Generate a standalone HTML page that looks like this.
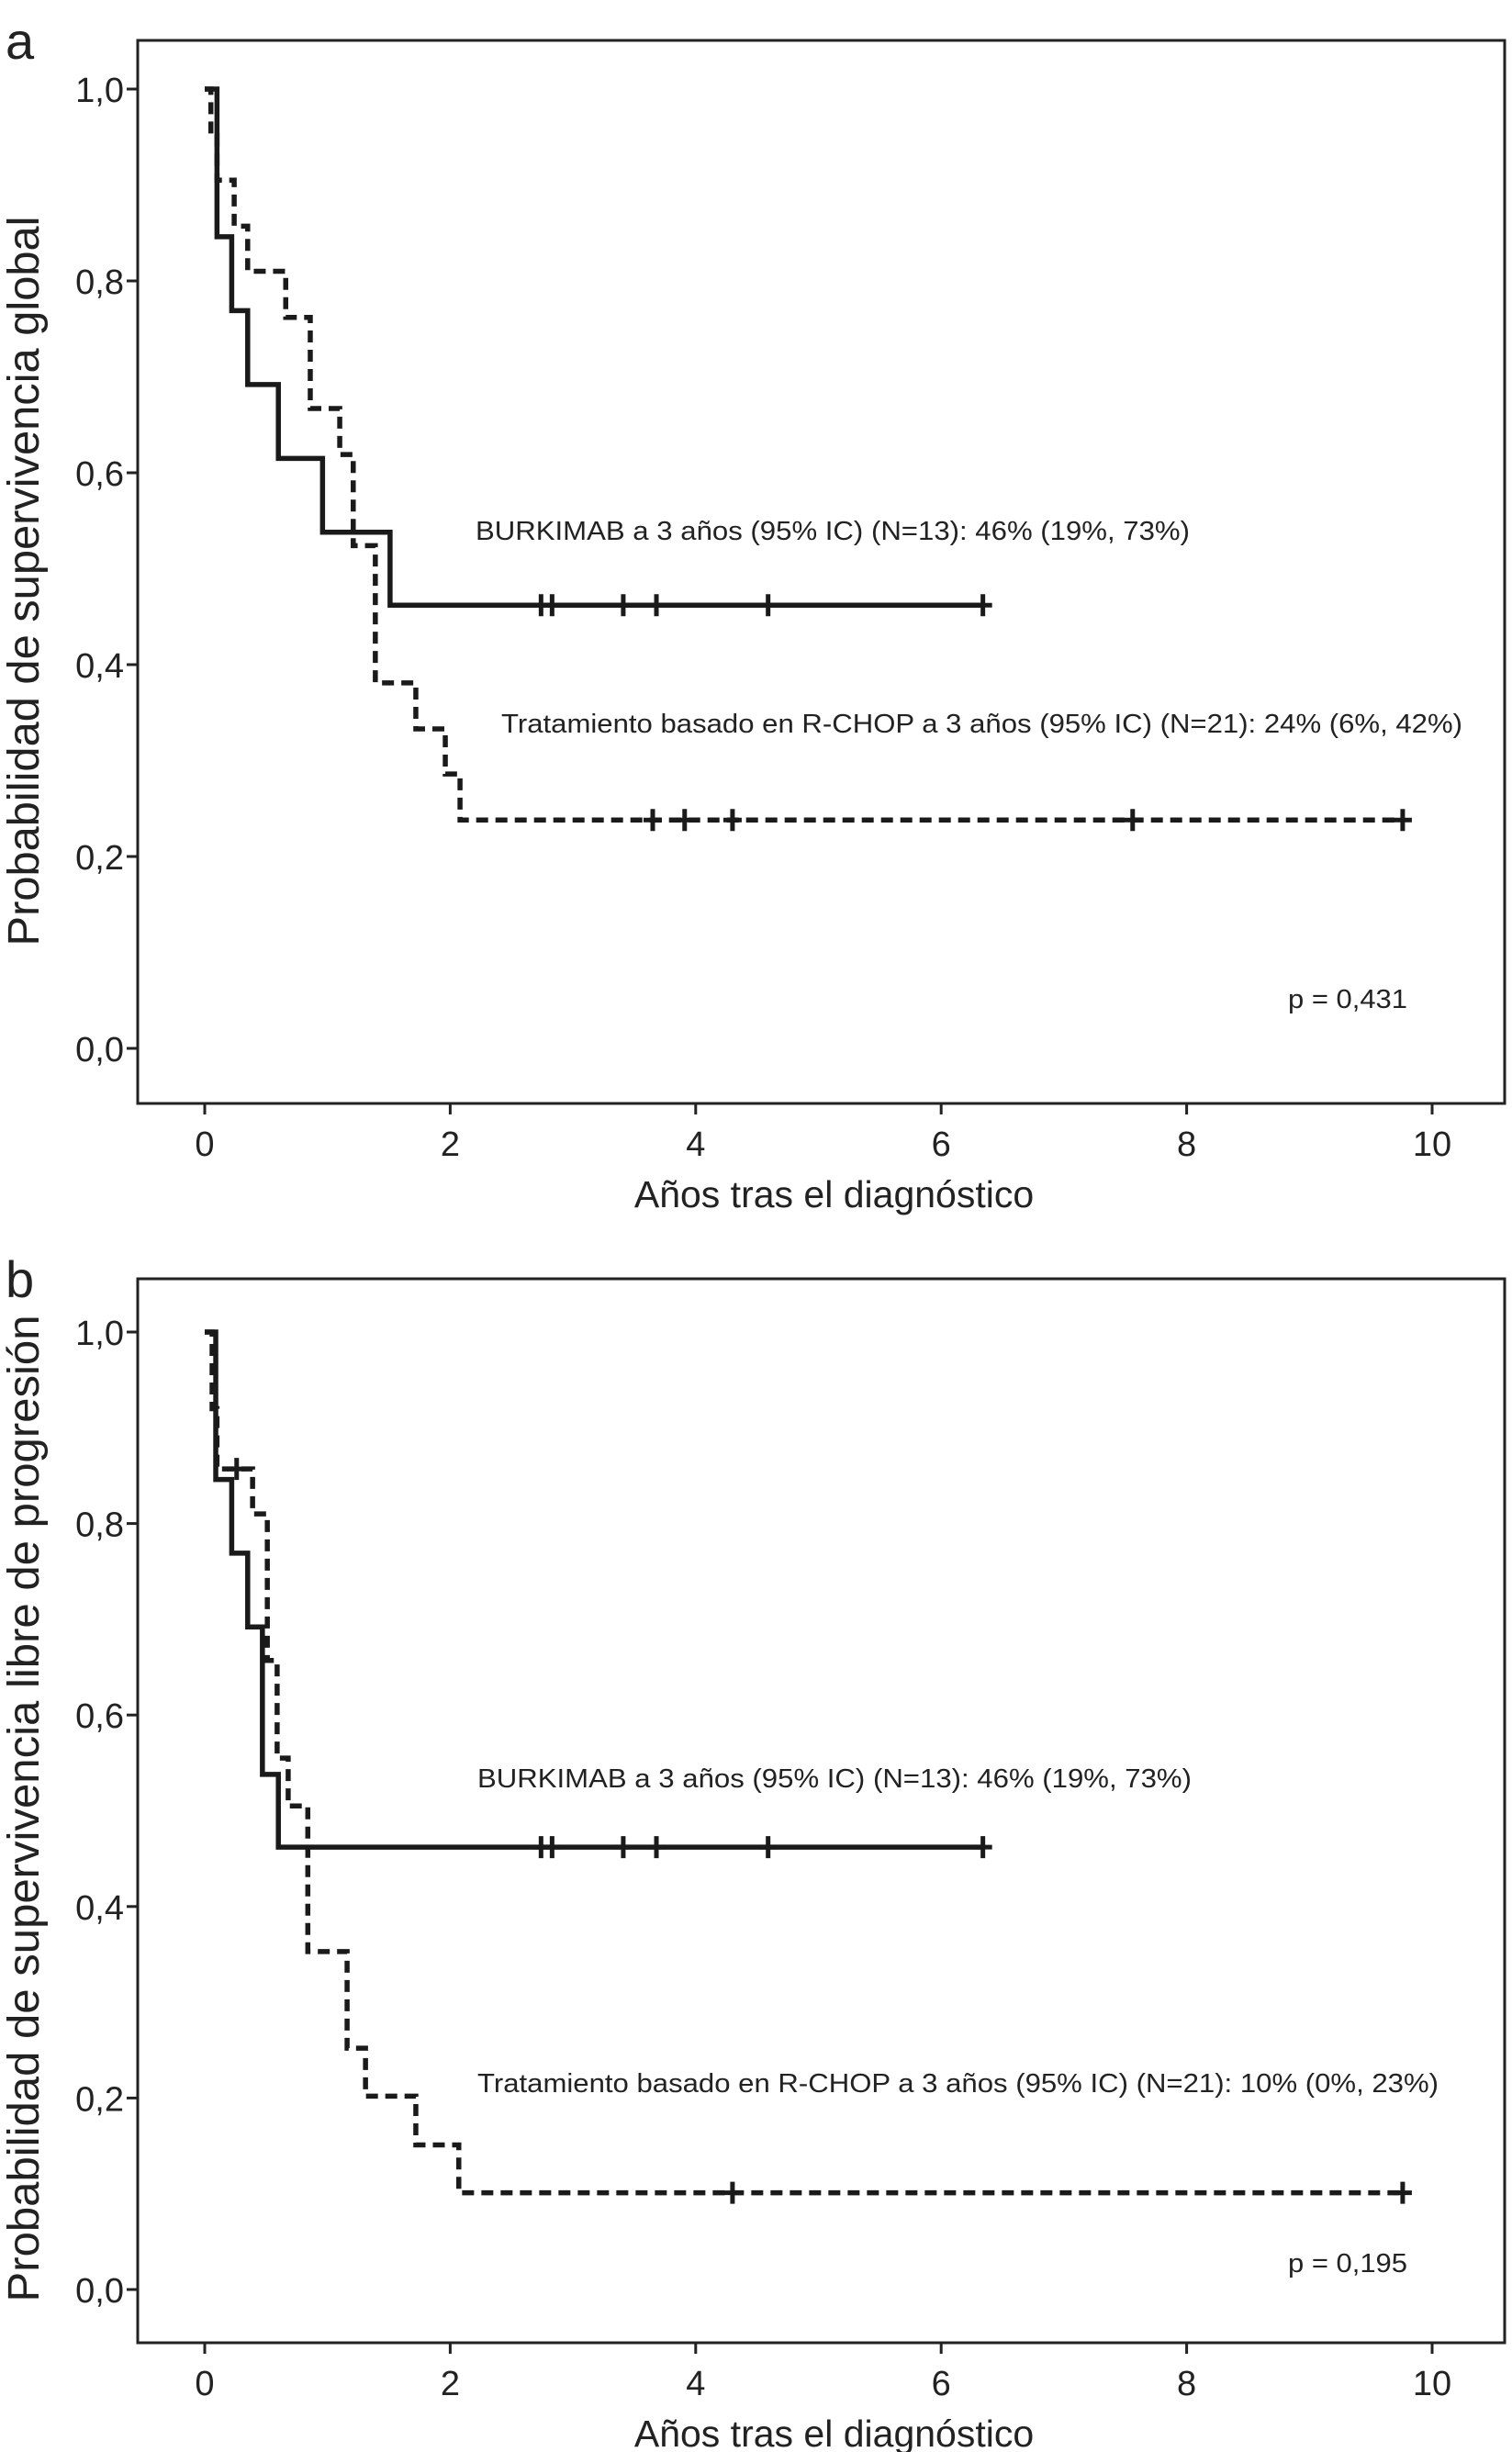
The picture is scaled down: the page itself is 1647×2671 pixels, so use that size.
<!DOCTYPE html>
<html><head><meta charset="utf-8">
<style>
html,body{margin:0;padding:0;background:#fff;}
svg{display:block;}
text{font-family:"Liberation Sans",sans-serif;fill:#222;}
</style></head>
<body>
<svg id="chart" width="1647" height="2671" viewBox="0 0 1647 2671" xmlns="http://www.w3.org/2000/svg"></svg>
<script>
// ---- data ----
const xTicks = [0, 2, 4, 6, 8, 10];
const yTicks = [0, 0.2, 0.4, 0.6, 0.8, 1.0];
const yTickLabels = ["0,0", "0,2", "0,4", "0,6", "0,8", "1,0"];

// panel a
const aSolidTimes = [0, 0.1, 0.22, 0.35, 0.6, 0.96, 1.51, 6.34];
const aSolidSurv  = [1.0, 0.846, 0.769, 0.692, 0.615, 0.538, 0.462, 0.462];
const aSolidCens  = [2.74, 2.83, 3.41, 3.68, 4.59, 6.34];
const aDashTimes = [0, 0.05, 0.1, 0.24, 0.35, 0.66, 0.86, 1.1, 1.21, 1.39, 1.72, 1.96, 2.08, 9.76];
const aDashSurv  = [1.0, 0.952, 0.905, 0.857, 0.810, 0.762, 0.667, 0.619, 0.524, 0.381, 0.333, 0.286, 0.238, 0.238];
const aDashCens  = [3.65, 3.91, 4.30, 7.56, 9.76];

// panel b
const bSolidTimes = [0, 0.09, 0.22, 0.35, 0.47, 0.6, 6.34];
const bSolidSurv  = [1.0, 0.846, 0.769, 0.692, 0.538, 0.462, 0.462];
const bSolidCens  = [2.74, 2.83, 3.41, 3.68, 4.59, 6.34];
const bDashTimes = [0, 0.06, 0.1, 0.39, 0.51, 0.59, 0.68, 0.84, 1.16, 1.31, 1.72, 2.07, 9.76];
const bDashSurv  = [1.0, 0.92, 0.857, 0.81, 0.657, 0.555, 0.505, 0.353, 0.252, 0.202, 0.151, 0.101, 0.101];
const bDashCens  = [0.26, 4.30, 9.76];

const NS = "http://www.w3.org/2000/svg";
const svg = document.getElementById("chart");
function mk(tag, attrs, parent){
  const e = document.createElementNS(NS, tag);
  for (const k in attrs) e.setAttribute(k, attrs[k]);
  (parent||svg).appendChild(e);
  return e;
}

function stepSurv(times, surv, t){
  let s = surv[0];
  for (let i=0;i<times.length;i++){ if (times[i] <= t) s = surv[i]; }
  return s;
}

function panel(cfg){
  const g = mk("g", {});
  
  
  const X = v => cfg.x0 + (cfg.x10 - cfg.x0) * v / 10;
  const Y = v => cfg.y0 + (cfg.y1 - cfg.y0) * v;

  const frame = mk("rect", {x:cfg.fl, y:cfg.ft, width:cfg.fr-cfg.fl, height:cfg.fb-cfg.ft, fill:"none", stroke:"#222", "stroke-width":3}, g);
  
  

  const lbl = mk("text", {x:6, y:cfg.ft+20, "font-size":56}, g);
  lbl.textContent = cfg.letter;
  
  

  yTicks.forEach((v,i)=>{
    const t = mk("line", {x1:cfg.fl-12, x2:cfg.fl, y1:Y(v), y2:Y(v), stroke:"#222", "stroke-width":3}, g);
    
    
    const tx = mk("text", {x:cfg.fl-15, y:Y(v)+14, "font-size":38, "text-anchor":"end"}, g);
    tx.textContent = yTickLabels[i];
    
    
  });
  xTicks.forEach(v=>{
    const t = mk("line", {x1:X(v), x2:X(v), y1:cfg.fb, y2:cfg.fb+12, stroke:"#222", "stroke-width":3}, g);
    
    
    const tx = mk("text", {x:X(v), y:cfg.fb+57, "font-size":38, "text-anchor":"middle"}, g);
    tx.textContent = String(v);
    
    
  });
  const xt = mk("text", {x:(cfg.fl+cfg.fr)/2 + 14, y:cfg.fb+113, "font-size":41, "text-anchor":"middle"}, g);
  xt.textContent = "Años tras el diagnóstico";
  
  
  const yt = mk("text", {x:0, y:0, "font-size":48, "text-anchor":"middle", textLength:cfg.ylabW, lengthAdjust:"spacingAndGlyphs", transform:`translate(42,${cfg.ylabY}) rotate(-90)`}, g);
  yt.textContent = cfg.ylabel;
  
  

  function series(times, surv, cens, dashed, name){
    let d = `M${X(times[0])},${Y(surv[0])}`;
    for (let i=1;i<times.length;i++){
      d += ` H${X(times[i])} V${Y(surv[i])}`;
    }
    const p = mk("path", {d, fill:"none", stroke:"#1a1a1a", "stroke-width":5.5, "stroke-dasharray": dashed ? "13 8" : "none"}, g);
    
    
    cens.forEach(c=>{
      const s = stepSurv(times, surv, c);
      const m = mk("path", {d:`M${X(c)-10},${Y(s)} H${X(c)+10} M${X(c)},${Y(s)-12} V${Y(s)+12}`, stroke:"#1a1a1a", "stroke-width":5, fill:"none"}, g);
      
      
    });
  }
  series(cfg.sT, cfg.sS, cfg.sC, false, 'burkimab-curve');
  series(cfg.dT, cfg.dS, cfg.dC, true, 'rchop-curve');

  cfg.notes.forEach(n=>{
    const t = mk("text", {x:n.x, y:n.y, "font-size":29, textLength:n.w, lengthAdjust:"spacingAndGlyphs"}, g);
    t.textContent = n.text;
    
    
  });
}

panel({name:"panel-a-overall-survival", letter:"a",
  fl:150, fr:1639, ft:44, fb:1202, x0:223, x10:1560, y0:1142, y1:97, ylabY:633, ylabW:795,
  ylabel:"Probabilidad de supervivencia global",
  sT:aSolidTimes, sS:aSolidSurv, sC:aSolidCens, dT:aDashTimes, dS:aDashSurv, dC:aDashCens,
  notes:[
    {name:"burkimab-annotation", x:518, y:588, w:778, text:"BURKIMAB a 3 años (95% IC) (N=13): 46% (19%, 73%)"},
    {name:"rchop-annotation", x:546, y:798, w:1047, text:"Tratamiento basado en R-CHOP a 3 años (95% IC) (N=21): 24% (6%, 42%)"},
    {name:"p-value", x:1403, y:1098, w:130, text:"p = 0,431"}
  ]});

panel({name:"panel-b-progression-free-survival", letter:"b",
  fl:150, fr:1639, ft:1393, fb:2552, x0:223, x10:1560, y0:2494, y1:1451, ylabY:1970, ylabW:1075,
  ylabel:"Probabilidad de supervivencia libre de progresión",
  sT:bSolidTimes, sS:bSolidSurv, sC:bSolidCens, dT:bDashTimes, dS:bDashSurv, dC:bDashCens,
  notes:[
    {name:"burkimab-annotation", x:520, y:1947, w:778, text:"BURKIMAB a 3 años (95% IC) (N=13): 46% (19%, 73%)"},
    {name:"rchop-annotation", x:520, y:2279, w:1047, text:"Tratamiento basado en R-CHOP a 3 años (95% IC) (N=21): 10% (0%, 23%)"},
    {name:"p-value", x:1403, y:2475, w:130, text:"p = 0,195"}
  ]});
</script>
</body></html>
